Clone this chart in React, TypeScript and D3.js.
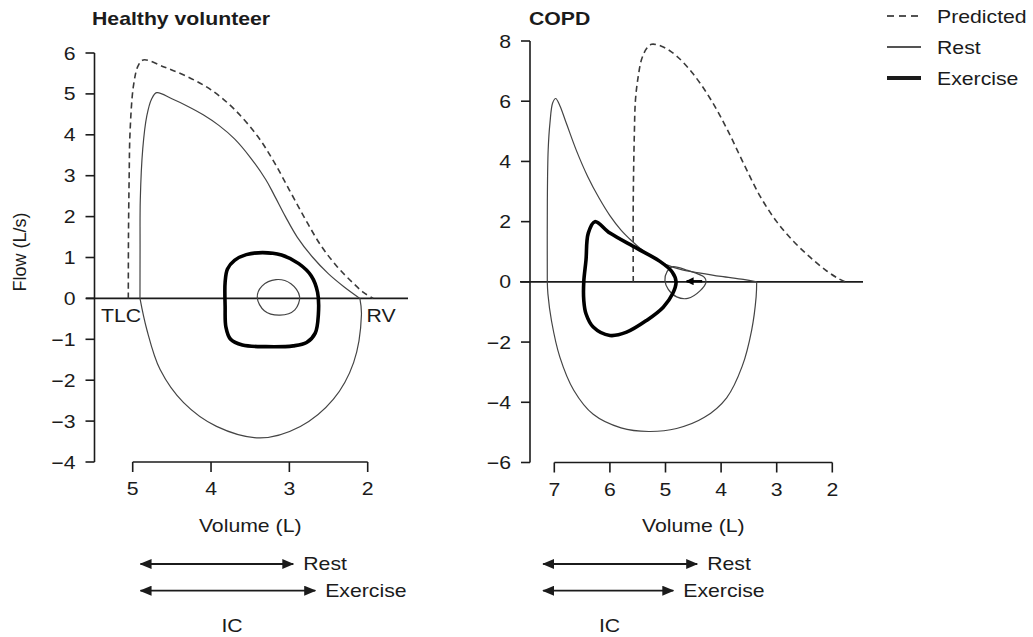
import React from "react";
import * as d3 from "d3";

type Pt = [number, number]; // [volume (L), flow (L/s)]

// ---- Healthy volunteer ----
const hvPredicted: Pt[] = [
  [5.056, 0], [5.054, 1.5], [5.045, 3.0], [5.034, 4.06], [4.99, 5.2], [4.93, 5.69],
  [4.865, 5.83], [4.6, 5.66], [4.3, 5.42], [4.0, 5.1], [3.7, 4.62], [3.4, 3.95],
  [3.2, 3.35], [3.0, 2.65], [2.8, 1.95], [2.6, 1.3], [2.4, 0.8], [2.2, 0.4],
  [2.05, 0.14], [1.93, 0],
];
const hvRestExp: Pt[] = [
  [4.907, 0], [4.906, 1.2], [4.903, 2.42], [4.872, 3.65], [4.82, 4.46], [4.76, 4.87],
  [4.694, 5.03], [4.5, 4.88], [4.3, 4.7], [4.1, 4.49], [3.9, 4.23], [3.7, 3.9],
  [3.5, 3.45], [3.3, 2.9], [3.2, 2.55], [3.05, 2.0], [2.9, 1.5], [2.7, 1.0],
  [2.5, 0.6], [2.3, 0.28], [2.1, 0],
];
const hvRestInsp: Pt[] = [
  [2.1, 0], [2.08, -0.4], [2.18, -1.57], [2.44, -2.47], [2.86, -3.13], [3.374, -3.41],
  [3.93, -3.13], [4.35, -2.55], [4.65, -1.74], [4.82, -0.76], [4.907, 0],
];
const hvRestTidal: Pt[] = [
  [3.41, 0.02], [3.35, 0.3], [3.17, 0.46], [2.98, 0.36], [2.87, 0.05],
  [2.93, -0.28], [3.12, -0.41], [3.32, -0.3],
];
const hvExerciseTidal: Pt[] = [
  [3.82, 0.4], [3.79, 0.72], [3.7, 0.93], [3.55, 1.07], [3.34, 1.12], [3.1, 1.06],
  [2.88, 0.85], [2.72, 0.55], [2.64, 0.15], [2.63, -0.4], [2.67, -0.85], [2.78, -1.08],
  [2.95, -1.16], [3.3, -1.18], [3.6, -1.14], [3.75, -1.0], [3.81, -0.7], [3.82, -0.2],
];
const hvXTicks = [5, 4, 3, 2];
const hvYTicks = [-4, -3, -2, -1, 0, 1, 2, 3, 4, 5, 6];
// inspiratory capacity: TLC to end-expiratory lung volume
const hvICRest: Pt = [4.9, 2.95];
const hvICExercise: Pt = [4.9, 2.67];

// ---- COPD ----
const copdPredicted: Pt[] = [
  [5.58, 0], [5.58, 2.72], [5.56, 4.94], [5.54, 6.05], [5.49, 6.83], [5.43, 7.39],
  [5.34, 7.75], [5.25, 7.89], [5.04, 7.8], [4.8, 7.5], [4.5, 6.9], [4.2, 6.1],
  [3.9, 5.1], [3.6, 3.95], [3.3, 2.85], [3.0, 2.0], [2.7, 1.35], [2.4, 0.82],
  [2.1, 0.36], [1.9, 0.12], [1.77, 0],
];
const copdRestExp: Pt[] = [
  [7.126, 0], [7.125, 2.72], [7.11, 4.39], [7.078, 5.28], [7.03, 5.94], [6.975, 6.09],
  [6.9, 5.85], [6.78, 5.25], [6.6, 4.35], [6.4, 3.5], [6.2, 2.8], [6.0, 2.2],
  [5.8, 1.72], [5.6, 1.35], [5.4, 1.03], [5.2, 0.78], [5.0, 0.58], [4.7, 0.4],
  [4.4, 0.3], [4.0, 0.18], [3.6, 0.08], [3.36, 0],
];
const copdRestInsp: Pt[] = [
  [3.36, 0], [3.37, -0.5], [3.45, -1.6], [3.62, -2.8], [3.9, -3.85], [4.3, -4.5],
  [4.8, -4.87], [5.3, -4.97], [5.8, -4.85], [6.3, -4.4], [6.65, -3.6], [6.9, -2.5],
  [7.05, -1.3], [7.115, -0.4], [7.126, 0],
];
const copdRestTidal: Pt[] = [
  [5.01, 0.05], [4.97, 0.35], [4.88, 0.5], [4.6, 0.38], [4.3, 0.15], [4.27, 0.0],
  [4.38, -0.3], [4.6, -0.55], [4.8, -0.5], [4.95, -0.25],
];
const copdExerciseTidal: Pt[] = [
  [6.27, 2.0], [6.0, 1.62], [5.52, 1.12], [5.1, 0.68], [4.88, 0.33], [4.81, 0],
  [4.87, -0.39], [5.04, -0.84], [5.34, -1.28], [5.7, -1.67], [6.0, -1.78],
  [6.3, -1.5], [6.43, -1.06], [6.47, -0.61], [6.47, 0], [6.43, 0.72], [6.39, 1.61],
];
const copdTidalArrow: Pt[] = [[4.34, 0.02], [4.62, 0.02]];
const copdXTicks = [7, 6, 5, 4, 3, 2];
const copdYTicks = [-6, -4, -2, 0, 2, 4, 6, 8];
const copdICRest: Pt = [7.2, 4.43];
const copdICExercise: Pt = [7.2, 4.86];

const legendItems = ["Predicted", "Rest", "Exercise"];

const FONT = "'Liberation Sans', Arial, Helvetica, sans-serif";
const INK = "#1b1b1b";
const SX = 1.18; // text is drawn slightly wide

const fmt = (v: number) => (v < 0 ? "\u2212" + Math.abs(v) : String(v));

function Label(props: {
  x: number; y: number; anchor?: "start" | "middle" | "end";
  bold?: boolean; size?: number; children: React.ReactNode;
}) {
  const { x, y, anchor = "start", bold = false, size = 18, children } = props;
  return (
    <text
      transform={`translate(${x},${y}) scale(${SX},1)`}
      textAnchor={anchor}
      fontFamily={FONT}
      fontSize={size}
      fontWeight={bold ? "bold" : "normal"}
      fill={INK}
    >
      {children}
    </text>
  );
}

type PanelProps = {
  title: string;
  titleX: number;
  xDomain: [number, number];
  xRange: [number, number];
  yDomain: [number, number];
  yRange: [number, number];
  yAxisX: number;
  zeroLine: [number, number];
  xTicks: number[];
  yTicks: number[];
  predicted: Pt[];
  restExp: Pt[];
  restInsp: Pt[];
  restTidal: Pt[];
  exerciseTidal: Pt[];
  icRest: Pt;
  icExercise: Pt;
  icLabelX: number;
  children?: (x: d3.ScaleLinear<number, number>, y: d3.ScaleLinear<number, number>) => React.ReactNode;
};

function Panel(p: PanelProps) {
  const x = d3.scaleLinear().domain(p.xDomain).range(p.xRange);
  const y = d3.scaleLinear().domain(p.yDomain).range(p.yRange);
  const open = d3.line<Pt>().x((d) => x(d[0])).y((d) => y(d[1])).curve(d3.curveCatmullRom.alpha(0.5));
  const closed = d3.line<Pt>().x((d) => x(d[0])).y((d) => y(d[1])).curve(d3.curveCatmullRomClosed.alpha(0.5));
  const axisY = p.yRange[0];
  const [x0, x1] = p.xRange;
  const [ylo, yhi] = [p.yRange[0], p.yRange[1]];
  const xMid = (x0 + x1) / 2;
  return (
    <g>
      <Label x={p.titleX} y={25} bold size={18}>{p.title}</Label>

      {/* y axis */}
      <line x1={p.yAxisX} x2={p.yAxisX} y1={yhi} y2={ylo} stroke={INK} strokeWidth={1.6} />
      {p.yTicks.map((t) => (
        <g key={"y" + t}>
          <line x1={p.yAxisX - 9} x2={p.yAxisX} y1={y(t)} y2={y(t)} stroke={INK} strokeWidth={1.6} />
          <Label x={p.yAxisX - 19} y={y(t) + 6.5} anchor="end">{fmt(t)}</Label>
        </g>
      ))}

      {/* x axis (detached, below the plot) */}
      <line x1={x0} x2={x1} y1={axisY} y2={axisY} stroke={INK} strokeWidth={1.6} />
      {p.xTicks.map((t) => (
        <g key={"x" + t}>
          <line x1={x(t)} x2={x(t)} y1={axisY} y2={axisY + 10} stroke={INK} strokeWidth={1.6} />
          <Label x={x(t)} y={axisY + 33} anchor="middle">{t}</Label>
        </g>
      ))}
      <Label x={xMid} y={532} anchor="middle">Volume (L)</Label>

      {/* zero-flow line */}
      <line x1={p.zeroLine[0]} x2={p.zeroLine[1]} y1={y(0)} y2={y(0)} stroke={INK} strokeWidth={1.6} />

      {/* loops */}
      <path d={open(p.predicted) ?? ""} fill="none" stroke="#3a3a3a" strokeWidth={1.6} strokeDasharray="6,4" />
      <path d={open(p.restExp) ?? ""} fill="none" stroke="#444" strokeWidth={1.2} />
      <path d={open(p.restInsp) ?? ""} fill="none" stroke="#444" strokeWidth={1.2} />
      <path d={closed(p.restTidal) ?? ""} fill="none" stroke="#444" strokeWidth={1.2} />
      <path d={closed(p.exerciseTidal) ?? ""} fill="none" stroke="#000" strokeWidth={3.6} strokeLinejoin="round" />
      {p.children ? p.children(x, y) : null}

      {/* inspiratory capacity arrows */}
      <line x1={x(p.icRest[0])} x2={x(p.icRest[1])} y1={564} y2={564} stroke={INK} strokeWidth={1.8}
        markerStart="url(#head)" markerEnd="url(#head)" />
      <Label x={x(p.icRest[1]) + 10} y={570}>Rest</Label>
      <line x1={x(p.icExercise[0])} x2={x(p.icExercise[1])} y1={590.7} y2={590.7} stroke={INK} strokeWidth={1.8}
        markerStart="url(#head)" markerEnd="url(#head)" />
      <Label x={x(p.icExercise[1]) + 10} y={597}>Exercise</Label>
      <Label x={p.icLabelX} y={632} anchor="middle">IC</Label>
    </g>
  );
}

export default function App() {
  return (
    <svg
      width={1033}
      height={637}
      viewBox="0 0 1033 637"
      style={{ position: "fixed", left: 0, top: 0, background: "#fff" }}
    >
      <defs>
        <marker id="head" viewBox="0 0 12 10" refX="11" refY="5" markerWidth="12" markerHeight="10"
          markerUnits="userSpaceOnUse" orient="auto-start-reverse">
          <path d="M0,0 L12,5 L0,10 z" fill={INK} />
        </marker>
        <marker id="smallHead" viewBox="0 0 8 8" refX="7" refY="4" markerWidth="8" markerHeight="8"
          markerUnits="userSpaceOnUse" orient="auto">
          <path d="M0,0 L8,4 L0,8 z" fill="#000" />
        </marker>
      </defs>

      <Panel
        title="Healthy volunteer"
        titleX={92}
        xDomain={[5, 2]}
        xRange={[132.7, 367.7]}
        yDomain={[-4, 6]}
        yRange={[462, 53]}
        yAxisX={94.5}
        zeroLine={[86, 408]}
        xTicks={hvXTicks}
        yTicks={hvYTicks}
        predicted={hvPredicted}
        restExp={hvRestExp}
        restInsp={hvRestInsp}
        restTidal={hvRestTidal}
        exerciseTidal={hvExerciseTidal}
        icRest={hvICRest}
        icExercise={hvICExercise}
        icLabelX={232}
      >
        {() => (
          <g>
            <Label x={101} y={321.5}>TLC</Label>
            <Label x={366.5} y={321.5}>RV</Label>
          </g>
        )}
      </Panel>

      <Panel
        title="COPD"
        titleX={529}
        xDomain={[7, 2]}
        xRange={[554.3, 832.3]}
        yDomain={[-6, 8]}
        yRange={[462.5, 41]}
        yAxisX={530}
        zeroLine={[520, 863]}
        xTicks={copdXTicks}
        yTicks={copdYTicks}
        predicted={copdPredicted}
        restExp={copdRestExp}
        restInsp={copdRestInsp}
        restTidal={copdRestTidal}
        exerciseTidal={copdExerciseTidal}
        icRest={copdICRest}
        icExercise={copdICExercise}
        icLabelX={609.5}
      >
        {(x, y) => (
          <line
            x1={x(copdTidalArrow[0][0])} y1={y(copdTidalArrow[0][1])}
            x2={x(copdTidalArrow[1][0])} y2={y(copdTidalArrow[1][1])}
            stroke="#000" strokeWidth={2.4} markerEnd="url(#smallHead)"
          />
        )}
      </Panel>

      {/* y-axis title */}
      <text transform="translate(26,252) rotate(-90)" textAnchor="middle" fontFamily={FONT}
        fontSize={18} fill={INK}>Flow (L/s)</text>

      {/* legend */}
      {legendItems.map((name, i) => {
        const ly = 16 + i * 31;
        return (
          <g key={name}>
            <line x1={887} x2={921} y1={ly} y2={ly} stroke={INK}
              strokeWidth={i === 2 ? 4 : 1.4} strokeDasharray={i === 0 ? "7,5" : undefined} />
            <Label x={937} y={ly + 6.5}>{name}</Label>
          </g>
        );
      })}
    </svg>
  );
}
